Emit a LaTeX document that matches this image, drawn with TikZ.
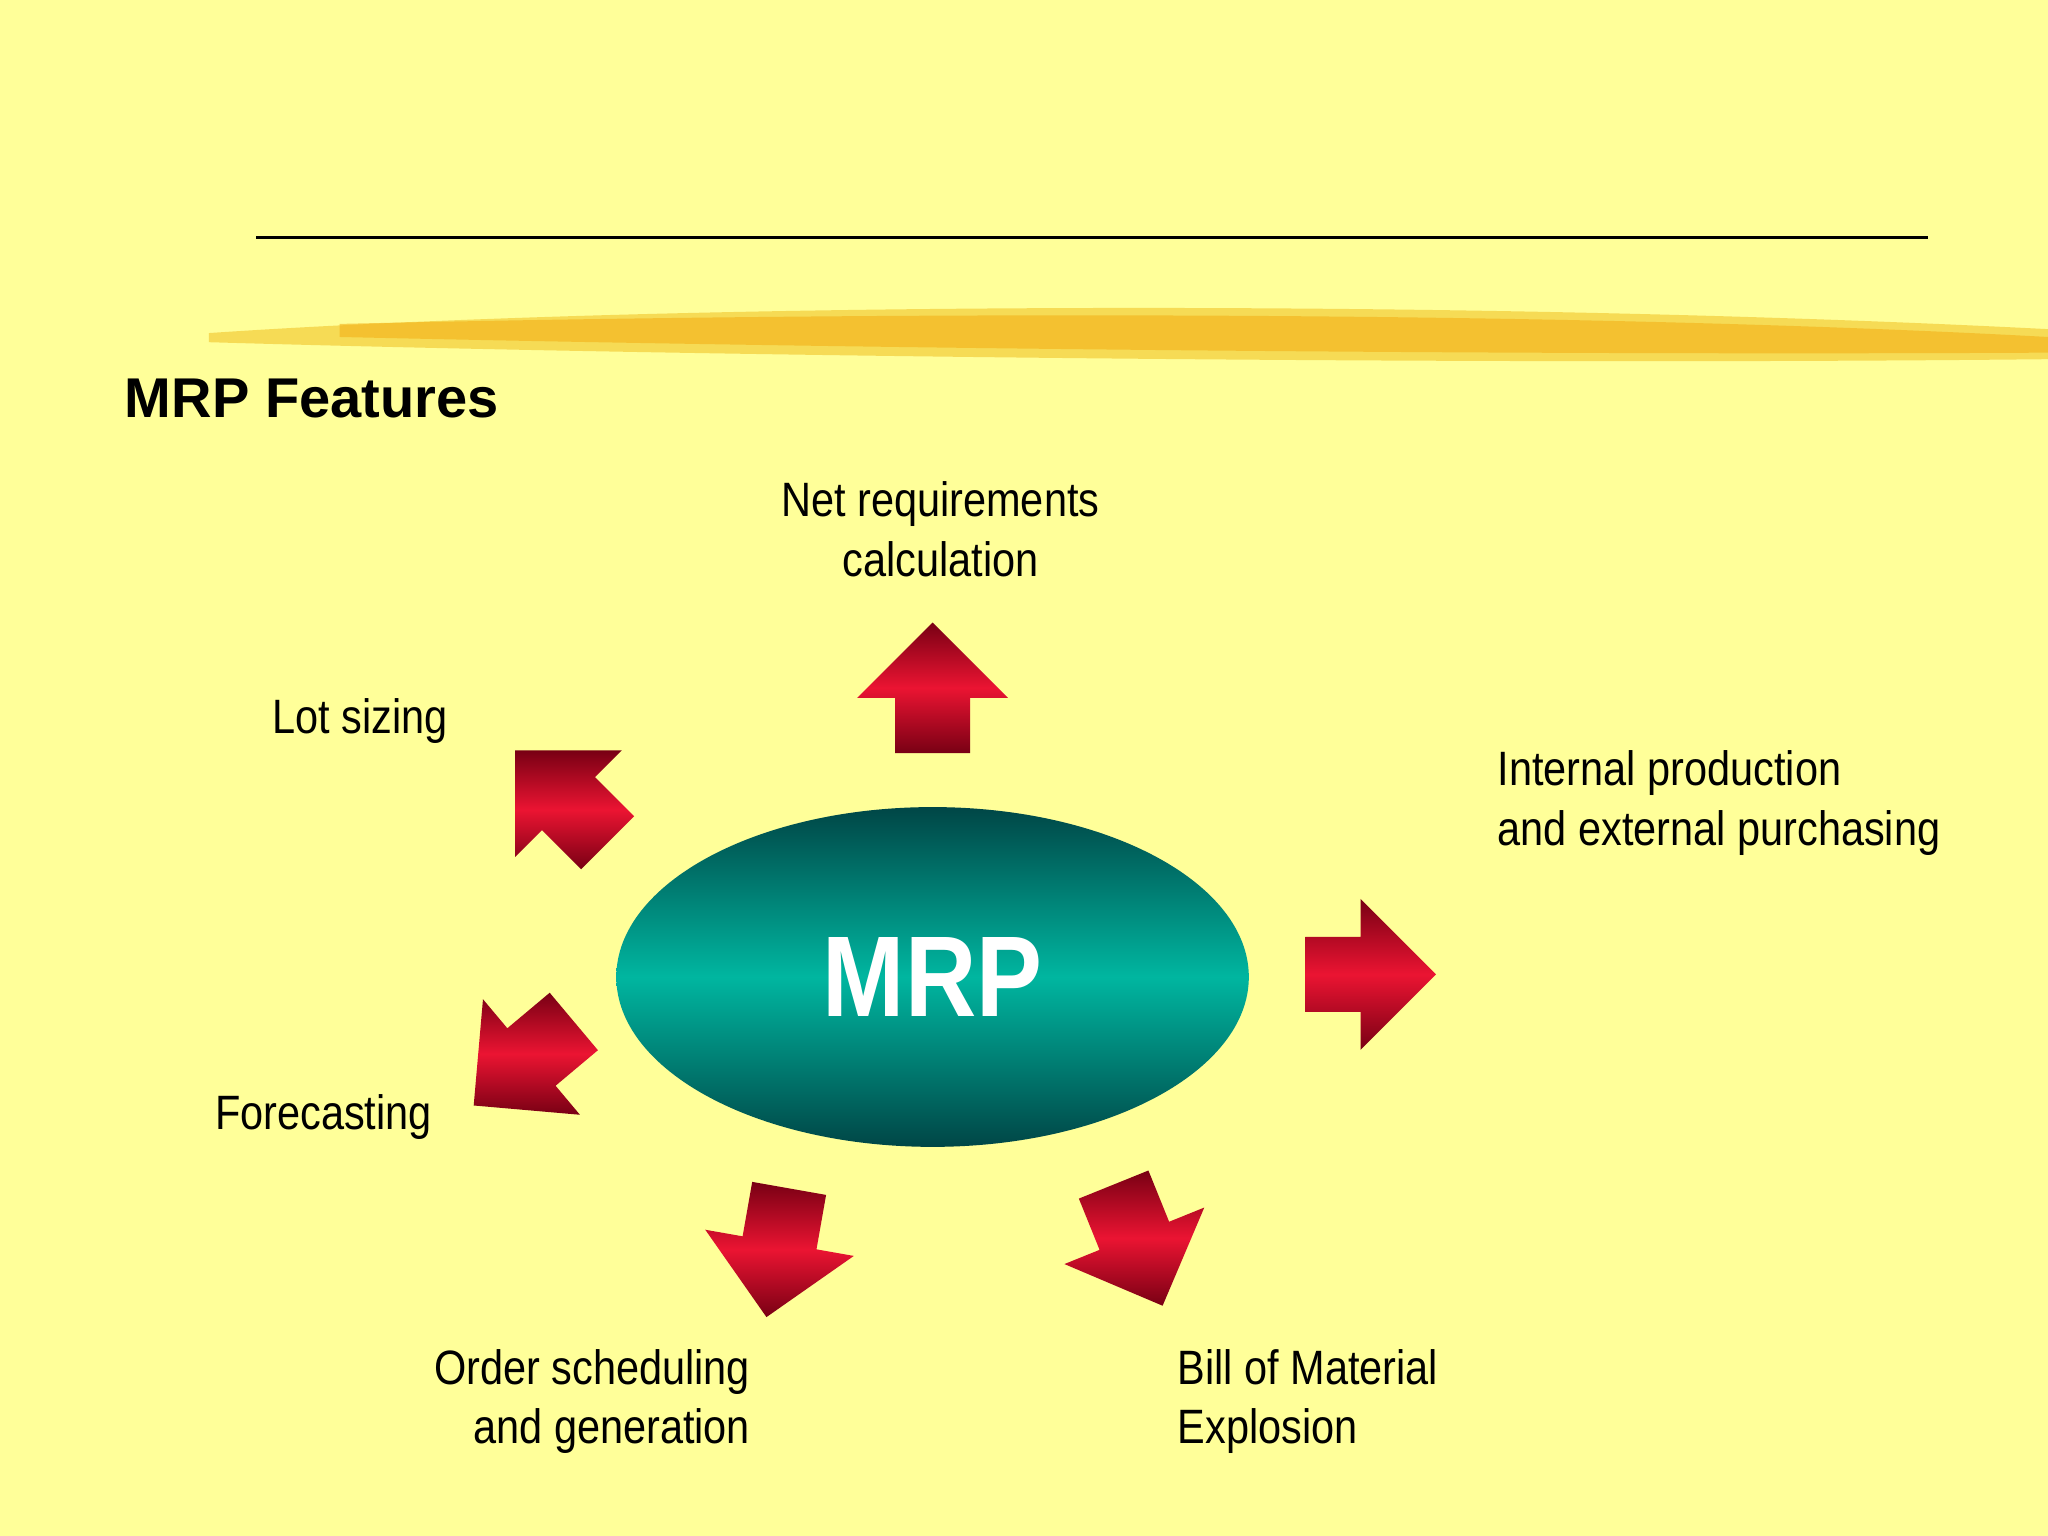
\documentclass[tikz,border=0pt]{standalone}
\usepackage{fontspec}
\setmainfont{Liberation Sans}
\newfontfamily\narrow[FakeStretch=0.86]{Liberation Sans}
\usetikzlibrary{shapes.arrows,shapes.geometric}
\definecolor{bg}{RGB}{255,255,153}
\definecolor{ared}{RGB}{235,20,50}
\definecolor{adark}{RGB}{120,0,20}
\definecolor{tdark}{RGB}{0,70,70}
\definecolor{tmid}{RGB}{0,182,160}
\definecolor{brush}{RGB}{240,190,30}
\begin{document}
\begin{tikzpicture}[x=0.01cm,y=-0.01cm,
 blk/.style={single arrow,draw=none,minimum height=1cm,inner xsep=0pt,inner ysep=0.28cm,single arrow head extend=0.29cm,single arrow tip angle=90,shading=axis,top color=adark,bottom color=adark,middle color=ared},
 lbl/.style={font=\narrow\fontsize{10.5}{13}\selectfont,align=left,inner sep=0pt}]
\fill[bg] (0,0) rectangle (1568,1176);
\useasboundingbox (0,0) rectangle (1568,1176);
\draw[line width=0.6pt] (196,182) -- (1476,182);
\fill[brush,opacity=0.55] (160,255) .. controls (500,232) and (1100,228) .. (1568,252) -- (1568,275) .. controls (1100,280) and (500,272) .. (160,262) -- cycle;
\fill[brush!80!orange,opacity=0.6] (260,248) .. controls (700,238) and (1200,238) .. (1568,258) -- (1568,270) .. controls (1200,272) and (700,268) .. (260,258) -- cycle;
\node[anchor=west,font=\bfseries\fontsize{12.2}{14}\selectfont,inner sep=0pt] (title) at (95,305) {MRP Features};
\node[ellipse,minimum width=4.84cm,minimum height=2.6cm,shading=axis,top color=tdark,bottom color=tdark,middle color=tmid,text=white,font=\narrow\bfseries\fontsize{25}{28}\selectfont] (mrp) at (714,748) {MRP};
\node[blk,rotate=90] (aup) at (714,541) {};
\node[blk,rotate=0] (aright) at (1035,746) {};
\node[blk,rotate=135] (aul) at (440,620) {};
\node[blk,rotate=220] (all) at (412,805) {};
\node[blk,rotate=260] (alm) at (598,945) {};
\node[blk,rotate=292] (alr) at (866,940) {};
\node[lbl,align=center] (net) at (720,405) {Net requirements\\calculation};
\node[lbl,anchor=west] (lot) at (208,552) {Lot sizing};
\node[lbl,anchor=west] (int) at (1146,615) {Internal production\\and external purchasing};
\node[lbl,anchor=west] (fore) at (164,855) {Forecasting};
\node[lbl,anchor=east,align=right] (ord) at (575,1073) {Order scheduling\\and generation};
\node[lbl,anchor=west] (bom) at (901,1073) {Bill of Material\\Explosion};
\end{tikzpicture}
\end{document}
